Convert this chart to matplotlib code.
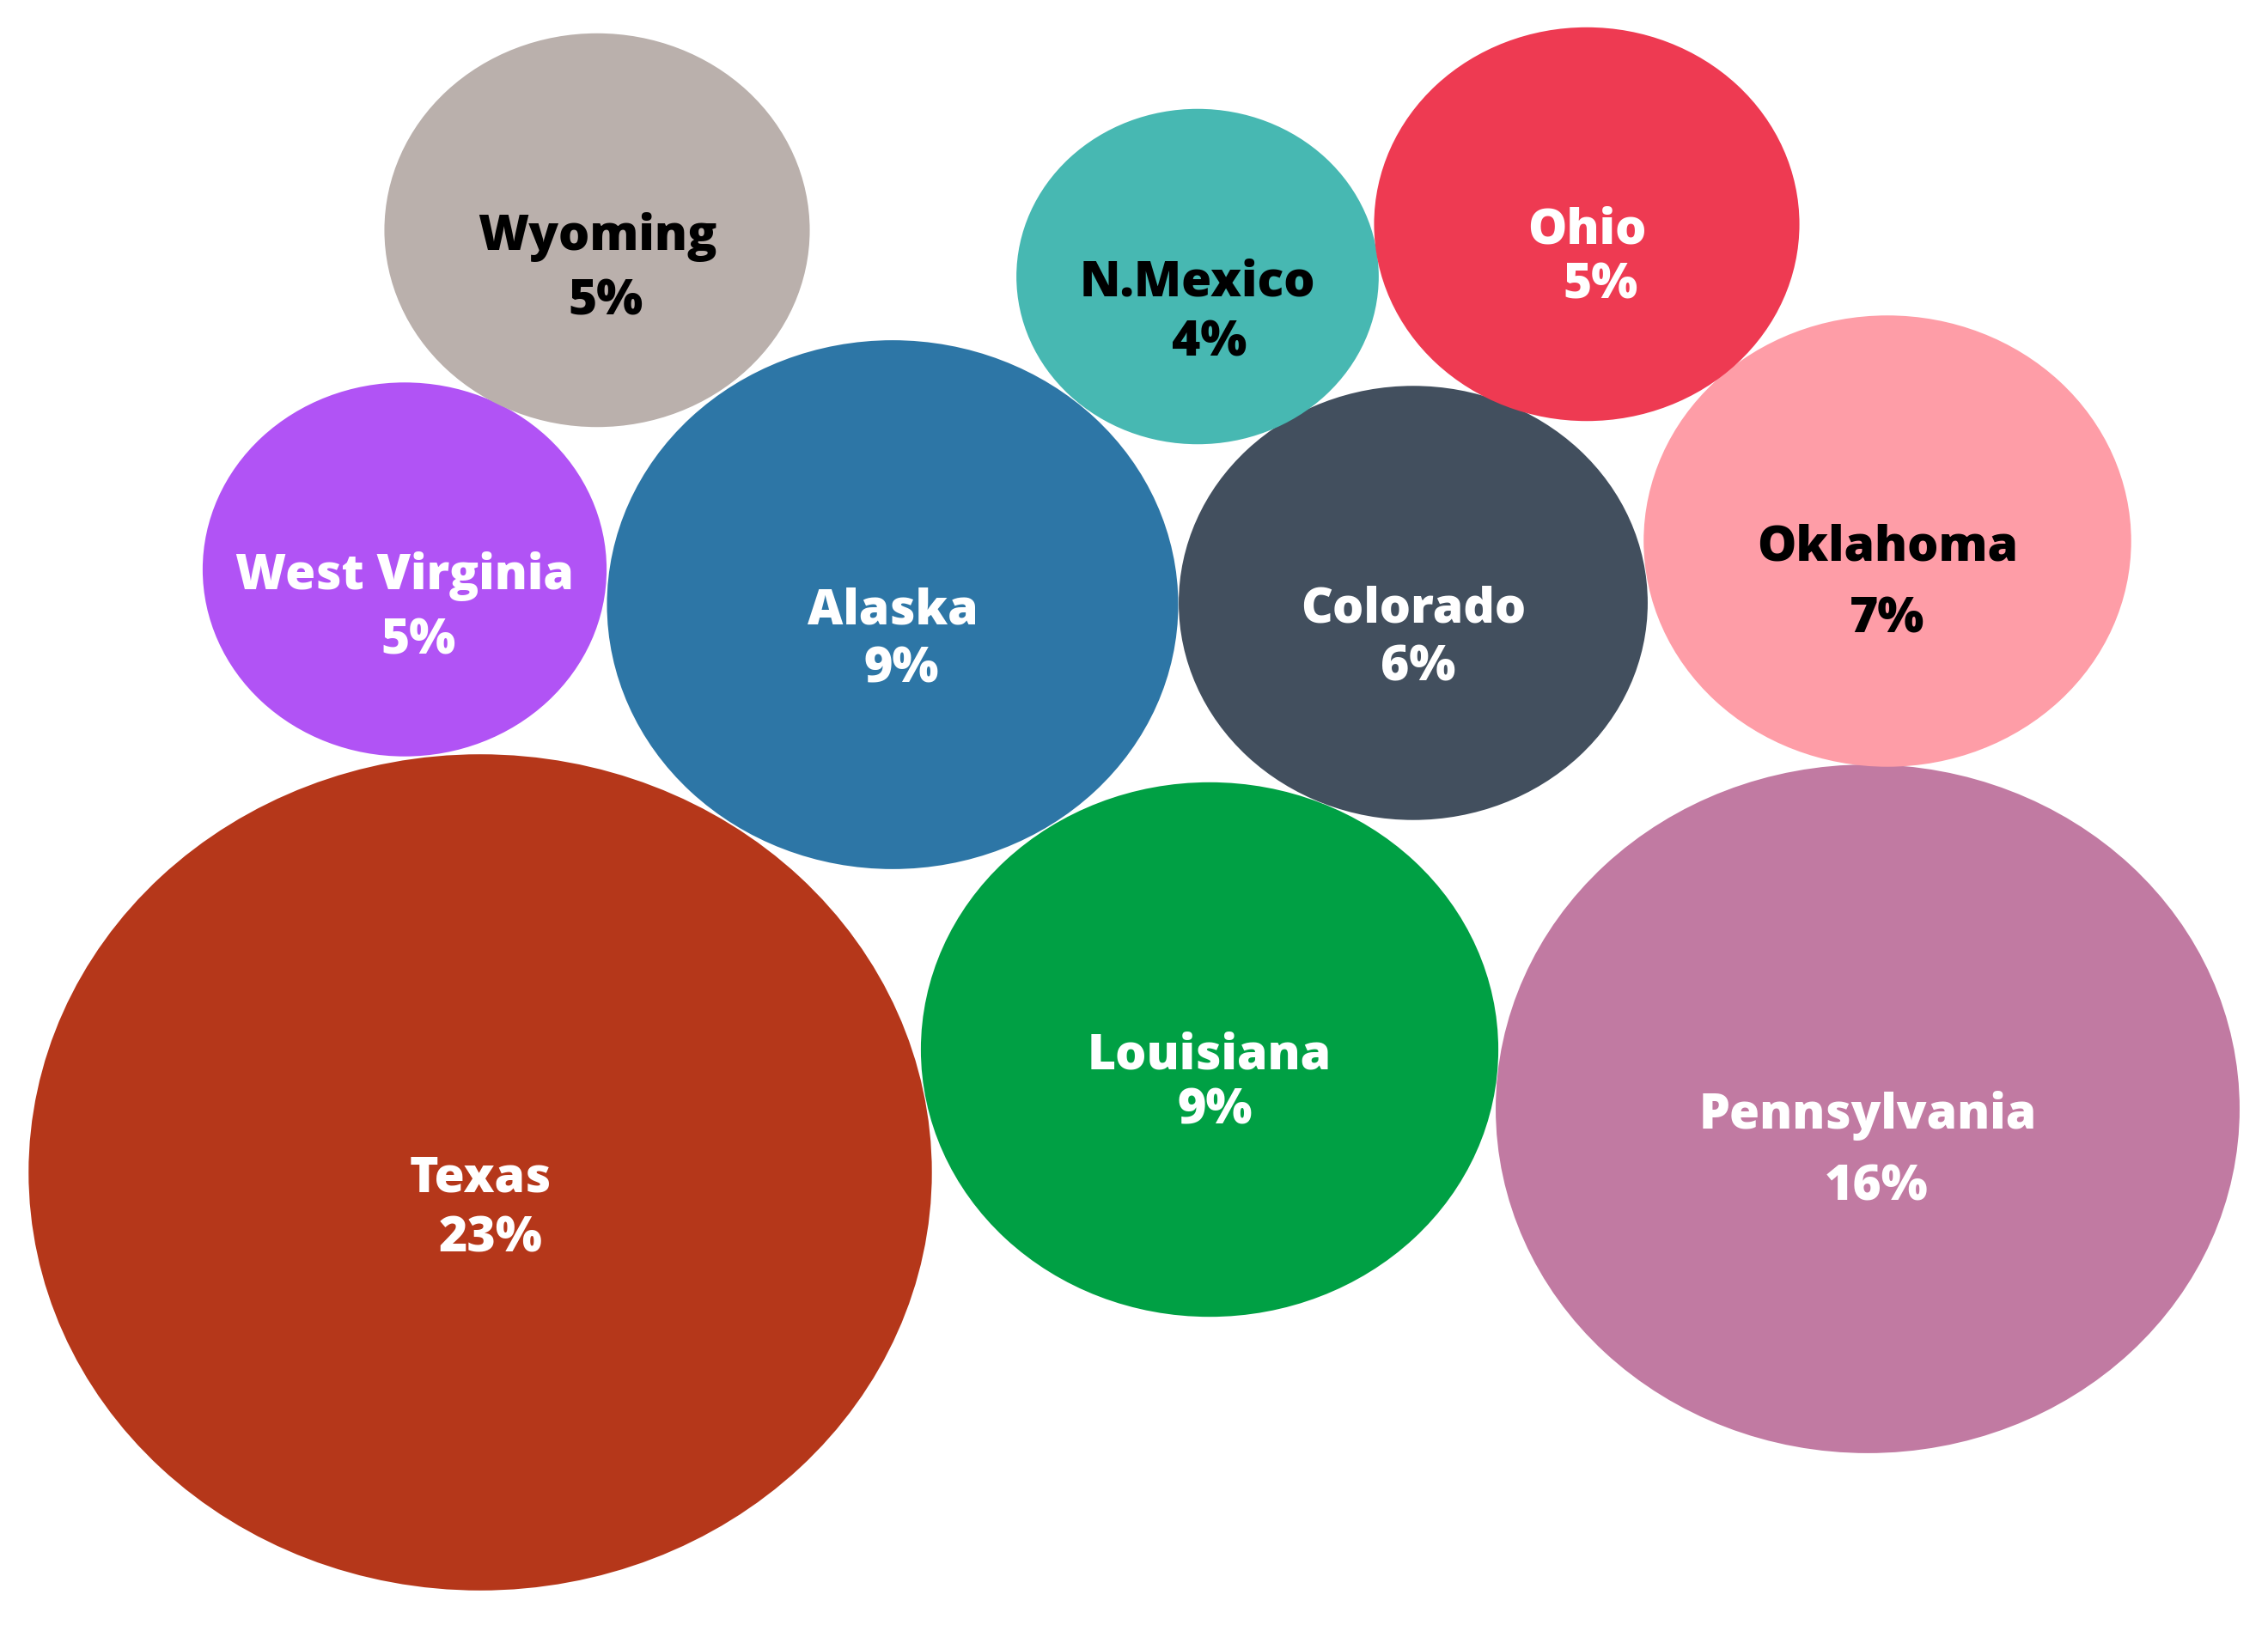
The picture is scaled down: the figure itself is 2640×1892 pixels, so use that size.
import numpy as np
import matplotlib
matplotlib.use("Agg")
import matplotlib.pyplot as plt
from matplotlib.patches import Ellipse

# ---- data ----
states = ["Texas", "Pennsylvania", "Louisiana", "Alaska", "Colorado",
          "Oklahoma", "West Virginia", "Wyoming", "N.Mexico", "Ohio"]
shares = [23.0, 15.6, 9.4, 9.2, 6.2, 6.7, 4.6, 5.1, 3.7, 5.1]   # percent

# ---- layout (packed-bubble centres, pixel space) ----
cx = [559, 2174, 1408, 1039, 1645, 2197, 471, 695, 1394, 1847]
cy = [1365, 1291, 1222, 704, 702, 630, 663, 268, 322, 261]
label_gap = [70, 84, 64, 68, 68, 84, 76, 76, 70, 64]
pct_dx = [12, 10, 6, 10, 6, 0, 16, 10, 14, 16]

colors = ["#B5371A", "#C17AA2", "#00A044", "#2D76A6", "#424F5E",
          "#FE9DA7", "#B153F5", "#BAB0AC", "#47B8B2", "#EE3A52"]
text_colors = ["white", "white", "white", "white", "white",
               "black", "white", "black", "black", "white"]

W, H = 2640, 1892
fig = plt.figure(figsize=(W / 100, H / 100), dpi=100)
ax = fig.add_axes([0, 0, 1, 1])
ax.set_xlim(0, W)
ax.set_ylim(H, 0)
ax.axis("off")

k = 101.5      # vertical radius per sqrt(percent)
stretch = 1.08 # horizontal stretch of the bubbles

for s, v, x, y, c, tc, g, dx in zip(states, shares, cx, cy, colors, text_colors, label_gap, pct_dx):
    r = k * np.sqrt(v)
    ax.add_patch(Ellipse((x, y), 2 * r * stretch, 2 * r, facecolor=c, edgecolor="none"))
    ax.text(x, y + 8, s, ha="center", va="center", color=tc,
            fontsize=41, fontweight=800, family="Open Sans")
    ax.text(x + dx, y + 8 + g, f"{v:.0f}%", ha="center", va="center", color=tc,
            fontsize=41, fontweight=800, family="Open Sans")

fig.savefig("out.png", dpi=100, facecolor="white")
